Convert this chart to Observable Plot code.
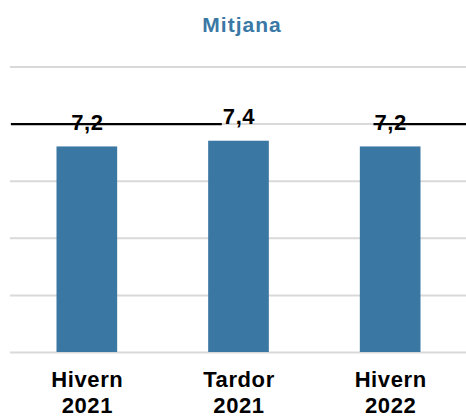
<!DOCTYPE html>
<html>
<head>
<meta charset="utf-8">
<script src="https://cdn.jsdelivr.net/npm/d3@7"></script>
<script src="https://cdn.jsdelivr.net/npm/@observablehq/plot@0.6"></script>
<style>
  body { margin: 0; background: #fff; font-family: "Liberation Sans", Arial, sans-serif; }
  #title { height: 31px; padding-top: 14px; padding-left: 18px; text-align: center; font-size: 21px; line-height: 21px; font-weight: bold; color: #3a78a5; letter-spacing: 1px; }
  svg text { letter-spacing: 0.6px; }
</style>
</head>
<body>
<div id="title">Mitjana</div>
<div id="chart"></div>
<script>
const categories = ["Hivern\n2021", "Tardor\n2021", "Hivern\n2022"];
const values = [7.2, 7.4, 7.2];
const valueLabels = ["7,2", "7,4", "7,2"];
const gridTicks = [0, 2, 4, 6, 8, 10];
const targetValue = 8;
// visible pieces of the target line, in category units
const targetSegments = [[-0.5, 0.89], [1.89, 2.5]];

const data = categories.map((c, i) => ({i, c, v: values[i], label: valueLabels[i]}));
const segs = targetSegments.map(([a, b]) => ({a, b, y: targetValue}));
const barHalf = 0.2;

const chart = Plot.plot({
  width: 466,
  height: 373,
  marginLeft: 11,
  marginRight: 0,
  marginTop: 21.5,
  marginBottom: 66,
  style: {fontFamily: "'Liberation Sans', Arial, sans-serif", background: "#fff"},
  x: {type: "linear", domain: [-0.5, 2.5], axis: null},
  y: {domain: [0, 10], axis: null},
  marks: [
    Plot.ruleY(gridTicks, {stroke: "#d9d9d9", strokeWidth: 2, x1: -0.5 - 0.007, x2: 2.5}),
    Plot.rectY(data, {x1: d => d.i - barHalf, x2: d => d.i + barHalf, y1: 0, y2: "v", fill: "#3a77a2"}),
    Plot.ruleY(segs, {x1: "a", x2: "b", y: "y", stroke: "#000", strokeWidth: 2.2}),
    Plot.text(data, {x: "i", y: "v", text: "label", dy: -17, lineAnchor: "bottom", fontSize: 22, fontWeight: "bold", fill: "#000"}),
    Plot.text(data, {x: "i", y: 0, text: "c", dy: 16.6, lineAnchor: "top", lineHeight: 1.16, fontSize: 22, fontWeight: "bold", fill: "#000"})
  ]
});
document.getElementById("chart").appendChild(chart);
</script>
</body>
</html>
